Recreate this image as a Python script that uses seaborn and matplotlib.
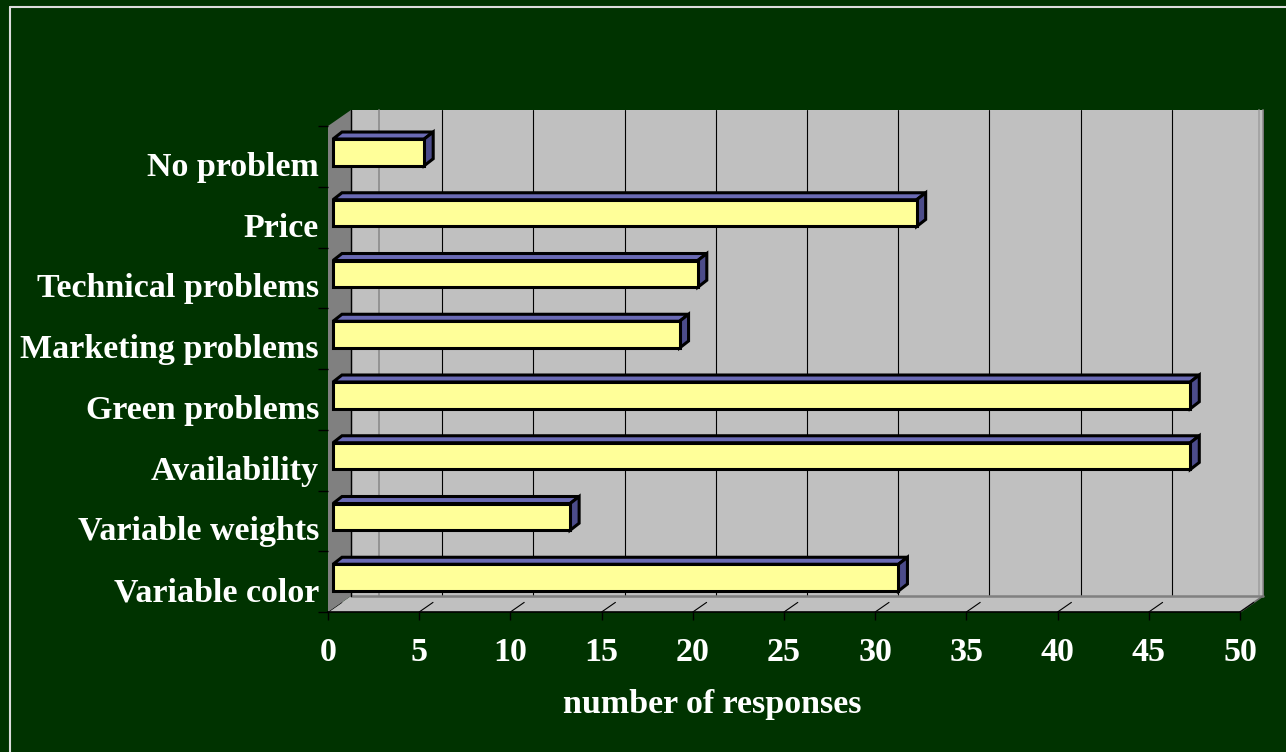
import matplotlib
matplotlib.use("Agg")
import matplotlib.pyplot as plt
import seaborn as sns
import pandas as pd
import numpy as np
from matplotlib.patches import Polygon
from matplotlib.transforms import ScaledTranslation

# data
categories = ["No problem", "Price", "Technical problems", "Marketing problems",
              "Green problems", "Availability", "Variable weights", "Variable color"]
responses = [5, 32, 20, 19, 47, 47, 13, 31]
x_ticks = [0, 5, 10, 15, 20, 25, 30, 35, 40, 45, 50]

W, H = 1286, 752
BG = "#003300"
WALL = "#c0c0c0"
SIDE_WALL = "#808080"
BAR_FACE = "#ffff99"
BAR_TOP = "#6a6ab4"
BAR_SIDE = "#4c4c8a"
FS = 24.5

sns.set_theme(style="white")
plt.rcParams["font.family"] = ["Liberation Serif", "DejaVu Serif"]
plt.rcParams["font.weight"] = "bold"

fig = plt.figure(figsize=(W / 100, H / 100), dpi=100, facecolor=BG)

# pixel overlay for walls, floor and 3d faces
bg = fig.add_axes([0, 0, 1, 1], zorder=0)
bg.set_xlim(0, W)
bg.set_ylim(H, 0)
bg.axis("off")

# front plane of the chart
L, R, T, B = 328, 1240, 126, 612
DX, DY = 23, 16          # depth of the walls
BX, BY = 5, 4            # bar front face offset
DDX, DDY = 9, 7          # bar depth

ax = fig.add_axes([L / W, 1 - B / H, (R - L) / W, (B - T) / H], zorder=1)
ax.patch.set_alpha(0)

df = pd.DataFrame({"problem": categories, "responses": responses})
sns.barplot(data=df, x="responses", y="problem", orient="h", color=BAR_FACE,
            saturation=1, edgecolor="black", linewidth=2.2, width=0.44, ax=ax)
ax.set_xlim(0, 50)
ax.set_ylim(len(categories) - 0.5, -0.5)


def to_px(x, y):
    px, py = ax.transData.transform((x, y))
    return px, H - py


# back wall
bg.add_patch(Polygon([(L + DX, T - DY), (R + DX, T - DY), (R + DX, B - DY), (L + DX, B - DY)],
                     closed=True, facecolor=WALL, edgecolor="none", zorder=1))
# gridlines on the back wall
for t in x_ticks:
    gx = to_px(t, 0)[0] + DX
    bg.plot([gx, gx], [T - DY, B - DY], color="black", lw=0.8, zorder=2)
bg.plot([L + DX + 28, L + DX + 28], [T - DY, B - DY], color="#8c8c8c", lw=1.2, zorder=2)
bg.plot([R + DX - 4, R + DX - 4], [T - DY, B - DY], color="#a0a0a0", lw=1.2, zorder=2)
bg.plot([R + DX, R + DX], [T - DY, B - DY], color="#909090", lw=1.2, zorder=2)

# floor
bg.add_patch(Polygon([(L, B), (R, B), (R + DX, B - DY), (L + DX, B - DY)],
                     closed=True, facecolor=WALL, edgecolor="none", zorder=3))
bg.plot([L + DX, R + DX], [B - DY, B - DY], color="#808080", lw=1.8, zorder=4)
bg.plot([R, R + DX], [B, B - DY], color="#707070", lw=1.2, zorder=4)
for t in x_ticks:
    fx = to_px(t, 0)[0]
    bg.plot([fx, fx + DX * 0.6], [B, B - DY * 0.6], color="black", lw=0.8, zorder=4)

# left wall
bg.add_patch(Polygon([(L, T), (L + DX, T - DY), (L + DX, B - DY), (L, B)],
                     closed=True, facecolor=SIDE_WALL, edgecolor="none", zorder=5))
bg.plot([L + DX, L + DX], [T - DY, B - DY], color="black", lw=1.0, zorder=5)

# bars: shift the front face and add the top and side faces
shift = ScaledTranslation(BX / 100, BY / 100, fig.dpi_scale_trans)
for p in ax.patches:
    p.set_transform(ax.transData + shift)
    x0, x1 = p.get_x(), p.get_x() + p.get_width()
    y0, y1 = p.get_y(), p.get_y() + p.get_height()
    ax0, ay0 = to_px(x0, y0)
    ax1, ay1 = to_px(x1, y1)
    top_y = min(ay0, ay1) - BY
    bot_y = max(ay0, ay1) - BY
    lx, rx = ax0 + BX, ax1 + BX
    bg.add_patch(Polygon([(lx, top_y), (rx, top_y), (rx + DDX, top_y - DDY), (lx + DDX, top_y - DDY)],
                         closed=True, facecolor=BAR_TOP, edgecolor="black", lw=2.2, zorder=6))
    bg.add_patch(Polygon([(rx, top_y), (rx, bot_y), (rx + DDX, bot_y - DDY), (rx + DDX, top_y - DDY)],
                         closed=True, facecolor=BAR_SIDE, edgecolor="black", lw=2.2, zorder=6))

# outer frame lines
bg.plot([10, W], [7, 7], color="#dcdcdc", lw=1.5, zorder=1)
bg.plot([10, 10], [7, H], color="#dcdcdc", lw=1.5, zorder=1)

# axes styling
for side in ["left", "top", "right"]:
    ax.spines[side].set_visible(False)
ax.spines["bottom"].set_color("black")
ax.spines["bottom"].set_linewidth(1.2)

ax.set_xticks(x_ticks)
ax.tick_params(axis="x", direction="out", length=5.8, width=1, color="black",
               labelsize=FS, labelcolor="white", pad=12, bottom=True)
ax.set_yticks(range(len(categories)))
ax.tick_params(axis="y", length=0, labelleft=False)
ax.set_yticks(np.arange(-0.5, len(categories)), minor=True)
ax.tick_params(axis="y", which="minor", direction="out", length=7.2, width=1,
               color="black", left=True)

ax.set_ylabel("")
ax.set_xlabel("number of responses", fontsize=FS, color="white", fontweight="bold")
ax.xaxis.set_label_coords(0.421, -0.19)
ax.xaxis.label.set_va("center")

lab_tr = ax.get_yaxis_transform() + ScaledTranslation(-9 / 100, -11 / 100, fig.dpi_scale_trans)
for i, name in enumerate(categories):
    ax.text(0, i, name, transform=lab_tr, ha="right", va="center",
            fontsize=FS, color="white", fontweight="bold")

fig.savefig("out.png", dpi=100, facecolor=BG)
